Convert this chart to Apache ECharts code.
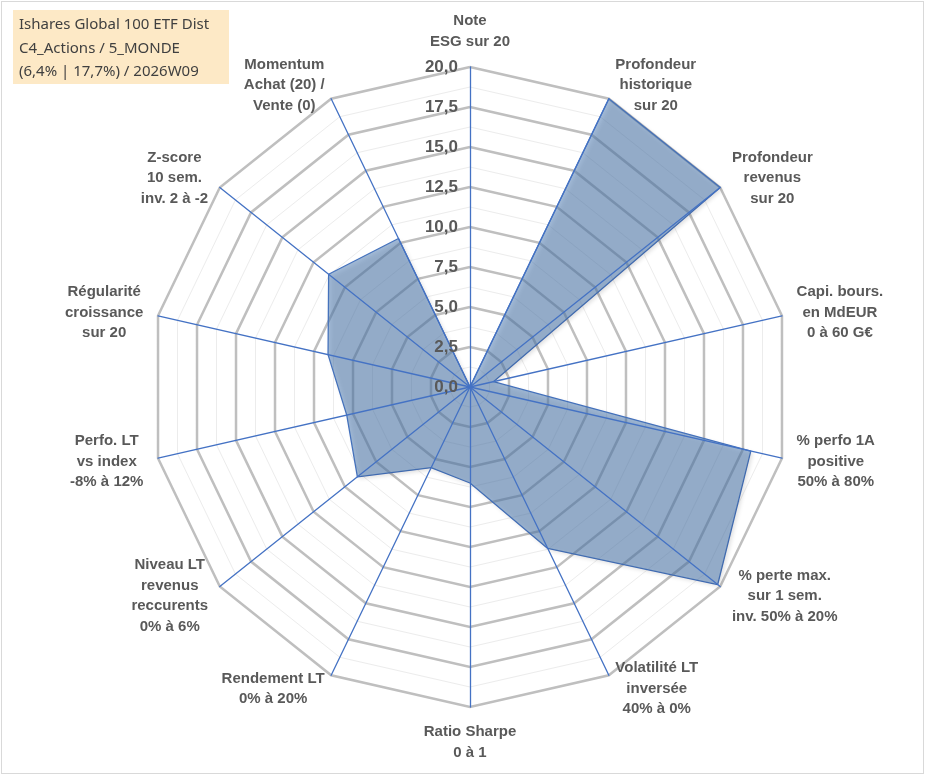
<!DOCTYPE html>
<html>
<head>
<meta charset="utf-8">
<script src="https://cdn.jsdelivr.net/npm/echarts@6/dist/echarts.min.js"></script>
<style>
  html, body { margin: 0; padding: 0; background: #fff; }
  #chart { position: absolute; left: 0; top: 0; width: 933px; height: 776px; }
  #frame { position: absolute; left: 1px; top: 1px; width: 921px; height: 771px; border: 1px solid #d9d9d9; pointer-events: none; }
</style>
</head>
<body>
<div id="chart"></div>
<div id="frame"></div>
<script>
// axes, clockwise from the top
const axisNames = [
  'Note\nESG sur 20',
  'Profondeur\nhistorique\nsur 20',
  'Profondeur\nrevenus\nsur 20',
  'Capi. bours.\nen MdEUR\n0 à 60 G€',
  '% perfo 1A\npositive\n50% à 80%',
  '% perte max.\nsur 1 sem.\ninv. 50% à 20%',
  'Volatilité LT\ninversée\n40% à 0%',
  'Ratio Sharpe\n0 à 1',
  'Rendement LT\n0% à 20%',
  'Niveau LT\nrevenus\nreccurents\n0% à 6%',
  'Perfo. LT\nvs index\n-8% à 12%',
  'Régularité\ncroissance\nsur 20',
  'Z-score\n10 sem.\ninv. 2 à -2',
  'Momentum\nAchat (20) /\nVente (0)'
];
const scoreValues = [0, 20, 20, 1.5, 18, 19.8, 11.2, 6, 5.6, 9, 7.9, 9.1, 11.3, 10.3];
const axisMax = 20;
const tickStep = 2.5;
const titleLines = ['Ishares Global 100 ETF Dist', 'C4_Actions / 5_MONDE', '(6,4% | 17,7%) / 2026W09'];

const chart = echarts.init(document.getElementById('chart'));

// le radar d'echarts tourne dans le sens inverse : on garde le 1er axe en haut et on inverse les autres
const order = [0].concat(axisNames.map((_, i) => i).slice(1).reverse());
const names = order.map(i => axisNames[i]);
const values = order.map(i => scoreValues[i]);

const center = [470, 387];
const radius = 320;
const indicators = names.map(n => ({ name: n, min: 0, max: axisMax }));

// lignes de noms centrées dans leur bloc
function nameFormatter(name) {
  return name.split('\n').map(l => '{c|' + l + '}').join('\n');
}

const option = {
  backgroundColor: '#fff',
  animation: false,
  radar: [
    { // petites graduations
      center: center, radius: radius, startAngle: 90, shape: 'polygon', z: 0,
      splitNumber: axisMax / tickStep * 2,
      indicator: indicators,
      axisName: { show: false },
      axisLine: { show: false },
      splitArea: { show: false },
      splitLine: { lineStyle: { color: '#ececec', width: 1 } }
    },
    { // grandes graduations + noms
      center: center, radius: radius, startAngle: 90, shape: 'polygon', z: 0,
      splitNumber: axisMax / tickStep,
      indicator: indicators,
      axisNameGap: 15,
      axisName: {
        color: '#595959',
        formatter: nameFormatter,
        rich: {
          c: { align: 'center', color: '#595959', fontFamily: 'Liberation Sans', fontWeight: 'bold', fontSize: 15, lineHeight: 20.5 }
        }
      },
      axisLine: { show: false },
      splitArea: { show: false },
      splitLine: { lineStyle: { color: '#bfbfbf', width: 2.5 } }
    },
    { // axes bleus et valeurs au-dessus
      center: center, radius: radius, startAngle: 90, shape: 'polygon', z: 3,
      splitNumber: axisMax / tickStep,
      indicator: indicators.map((ind, i) => i === 0 ? Object.assign({}, ind, {
        axisLabel: {
          show: true,
          color: '#595959',
          fontFamily: 'Liberation Sans',
          fontWeight: 'bold',
          fontSize: 17,
          margin: 12,
          formatter: v => v.toFixed(1).replace('.', ',')
        }
      }) : ind),
      axisName: { show: false },
      axisLabel: { show: false },
      axisLine: { lineStyle: { color: '#4472c4', width: 1.3 } },
      splitArea: { show: false },
      splitLine: { show: false }
    }
  ],
  graphic: [
    {
      type: 'group', left: 13, top: 10, z: 10,
      children: [
        { type: 'rect', shape: { x: 0, y: 0, width: 216, height: 74 }, style: { fill: '#fde9c6' } }
      ].concat(titleLines.map((t, i) => ({
        type: 'text', x: 6, y: 15 + i * 23.5,
        style: { text: t, fill: '#404040', font: '15px "Noto Sans"', verticalAlign: 'middle' }
      })))
    }
  ],
  series: [{
    type: 'radar',
    radarIndex: 1,
    z: 2,
    symbol: 'none',
    lineStyle: { color: '#4472c4', width: 1.3 },
    areaStyle: { color: 'rgba(79,125,180,0.75)', shadowColor: 'rgba(0,0,0,0.25)', shadowBlur: 4, shadowOffsetX: 2, shadowOffsetY: 2 },
    data: [{ value: values, name: 'Score' }]
  }]
};

chart.setOption(option);
</script>
</body>
</html>
